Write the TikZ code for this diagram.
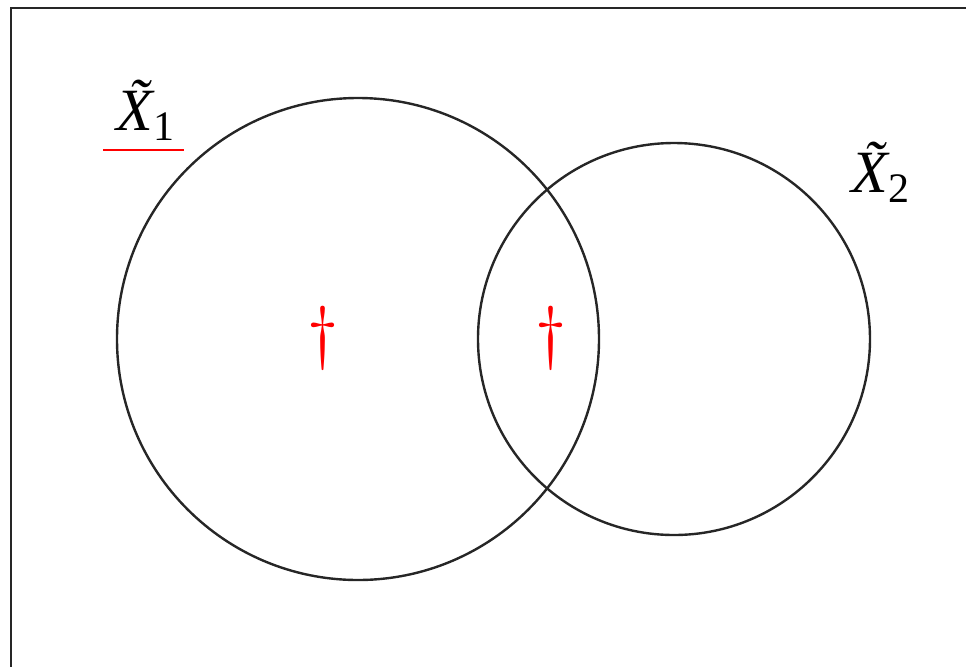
\documentclass[tikz,border=0pt]{standalone}
\usepackage{fontspec}
\setmainfont{Liberation Serif}
\newfontfamily\dagfont{Latin Modern Roman}
\begin{document}
\begin{tikzpicture}[x=0.5pt,y=-0.5pt,
  setline/.style={line width=1.2pt,black!85},
  mark dag/.style={red,inner sep=0,font=\dagfont\fontsize{35}{35}\selectfont},
  setlabel/.style={inner sep=0,anchor=base west,font=\fontsize{30}{30}\selectfont}]
  \clip(0,0)rectangle(966,666);
  \draw[line width=1.4pt,black!85](11,700)--(11,8)--(1000,8);
  \draw[setline](358,339) circle (241);
  \draw[setline](674,339) circle (196);
  \node[mark dag](dag1) at (323,338) {\textdagger};
  \node[mark dag](dag2) at (551,338) {\textdagger};
  \node[setlabel](lab1) at (116,130) {{\itshape\~{X}}\textsubscript{1}};
  \node[setlabel](lab2) at (851,192) {{\itshape\~{X}}\textsubscript{2}};
  \coordinate (u1) at (103,150);
  \coordinate (u2) at (184,150);
  \draw[red,line width=1.3pt](u1)--(u2);
\end{tikzpicture}
\end{document}
